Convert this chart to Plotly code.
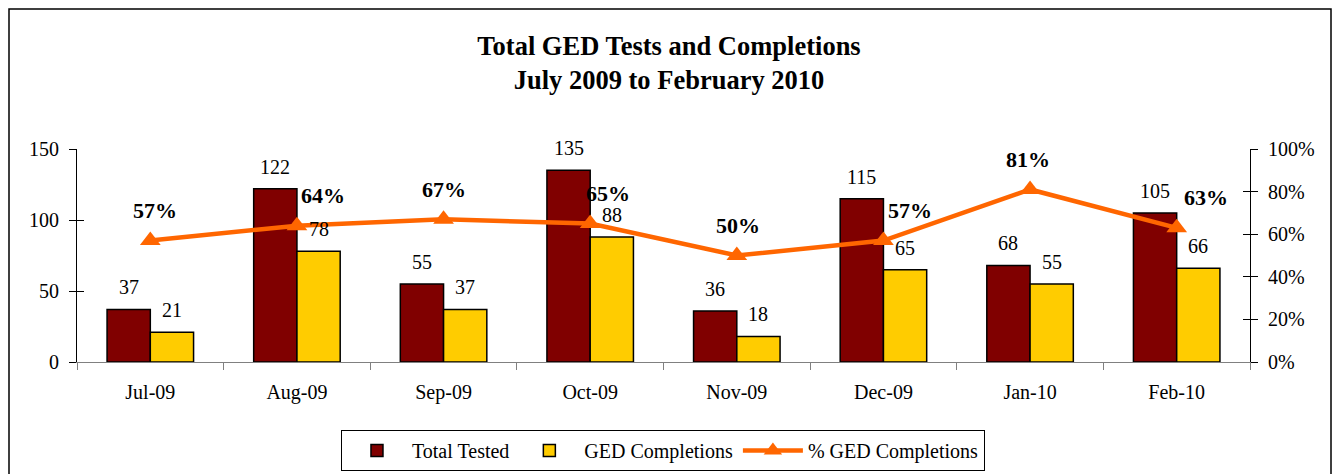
import plotly.graph_objects as go

months = ["Jul-09", "Aug-09", "Sep-09", "Oct-09", "Nov-09", "Dec-09", "Jan-10", "Feb-10"]
total_tested = [37, 122, 55, 135, 36, 115, 68, 105]
ged_completions = [21, 78, 37, 88, 18, 65, 55, 66]
pct_completions = [57, 64, 67, 65, 50, 57, 81, 63]
# horizontal offsets (px) of the percentage labels, as in the original
pct_label_xshift = [5, 26, 0, 18, 1, 27, -2, 29]

FONT = "Liberation Serif, Times New Roman, serif"
RED = "#800000"
YELLOW = "#FFCC00"
ORANGE = "#FF6600"

W, H = 1338, 474
ML, MR, MT, MB = 77, 88, 149, 112
plot_w = W - ML - MR
plot_h = H - MT - MB
bargap = 0.41
cat_w = plot_w / len(months)
bar_w = cat_w * (1 - bargap) / 2

fig = go.Figure()
fig.add_trace(go.Bar(x=months, y=total_tested, name="Total Tested",
                     marker=dict(color=RED, line=dict(color="black", width=1.5))))
fig.add_trace(go.Bar(x=months, y=ged_completions, name="GED Completions",
                     marker=dict(color=YELLOW, line=dict(color="black", width=1.5))))
fig.add_trace(go.Scatter(x=months, y=[p / 100 for p in pct_completions], name="% GED Completions",
                         yaxis="y2", mode="lines+markers",
                         line=dict(color=ORANGE, width=4.5),
                         marker=dict(symbol="triangle-up", size=18, color=ORANGE)))

annotations = []
for m, v in zip(months, total_tested):
    annotations.append(dict(x=m, y=v, xref="x", yref="y", text=str(v), showarrow=False,
                            xshift=-bar_w / 2, yshift=22, yanchor="middle",
                            font=dict(family=FONT, size=20, color="black")))
for m, v in zip(months, ged_completions):
    annotations.append(dict(x=m, y=v, xref="x", yref="y", text=str(v), showarrow=False,
                            xshift=bar_w / 2, yshift=22, yanchor="middle",
                            font=dict(family=FONT, size=20, color="black")))
for m, p, dx in zip(months, pct_completions, pct_label_xshift):
    annotations.append(dict(x=m, y=p / 100, xref="x", yref="y2", text=f"<b>{p}%</b>",
                            showarrow=False, xshift=dx, yshift=30, yanchor="middle",
                            font=dict(family=FONT, size=22, color="black")))

# outer chart border
bx0 = (9 - ML) / plot_w
bx1 = (1331 - ML) / plot_w
by1 = (H - MB - 9) / plot_h
by0 = (H - MB - 490) / plot_h
shapes = [dict(type="rect", xref="paper", yref="paper", x0=bx0, x1=bx1, y0=by0, y1=by1,
               line=dict(color="black", width=1.5), fillcolor="rgba(0,0,0,0)", layer="below")]

fig.update_layout(
    width=W, height=H,
    margin=dict(l=ML, r=MR, t=MT, b=MB, autoexpand=False),
    paper_bgcolor="white", plot_bgcolor="white",
    font=dict(family=FONT, size=20, color="black"),
    barmode="group", bargap=bargap, bargroupgap=0,
    title=dict(text="<b>Total GED Tests and Completions<br>July 2009 to February 2010</b>",
               x=0.5, xanchor="center", y=1 - 55 / H, yanchor="middle",
               font=dict(family=FONT, size=26.5, color="black")),
    xaxis=dict(type="category", tickson="boundaries", ticks="outside", ticklen=7,
               tickcolor="#808080", showline=True, linecolor="#808080", linewidth=1,
               showgrid=False, ticklabelstandoff=12,
               tickfont=dict(family=FONT, size=20)),
    yaxis=dict(range=[0, 150], dtick=50, ticks="outside", ticklen=7, tickcolor="black",
               showline=True, linecolor="black", linewidth=1, showgrid=False,
               zeroline=False, tickfont=dict(family=FONT, size=20), ticklabelstandoff=6),
    yaxis2=dict(range=[0, 1], dtick=0.2, tickformat=".0%", overlaying="y", side="right",
                ticks="outside", ticklen=7, tickcolor="black", showline=True,
                linecolor="black", linewidth=1, showgrid=False, zeroline=False,
                tickfont=dict(family=FONT, size=20), ticklabelstandoff=6),
    yaxis3=dict(range=[0, 150], dtick=50, overlaying="y", side="left", ticks="inside",
                ticklen=7, tickcolor="black", showticklabels=False, showgrid=False,
                zeroline=False, showline=False),
    yaxis4=dict(range=[0, 1], dtick=0.2, overlaying="y", side="right", ticks="inside",
                ticklen=7, tickcolor="black", showticklabels=False, showgrid=False,
                zeroline=False, showline=False),
    legend=dict(orientation="h", x=0.4955, xref="container", xanchor="center",
                y=1 - 430 / H, yref="container", yanchor="top",
                bordercolor="black", borderwidth=1, bgcolor="white",
                font=dict(family=FONT, size=20), traceorder="normal",
                itemwidth=60, tracegroupgap=0),
    annotations=annotations,
    shapes=shapes,
)
# invisible traces that activate the inner-tick axes
fig.add_trace(go.Scatter(x=[months[0]], y=[None], yaxis="y3", showlegend=False, hoverinfo="skip"))
fig.add_trace(go.Scatter(x=[months[0]], y=[None], yaxis="y4", showlegend=False, hoverinfo="skip"))

fig.write_html("out.html", config={"displayModeBar": False},
               post_script="document.body.style.margin='0';document.body.style.overflow='hidden';")
